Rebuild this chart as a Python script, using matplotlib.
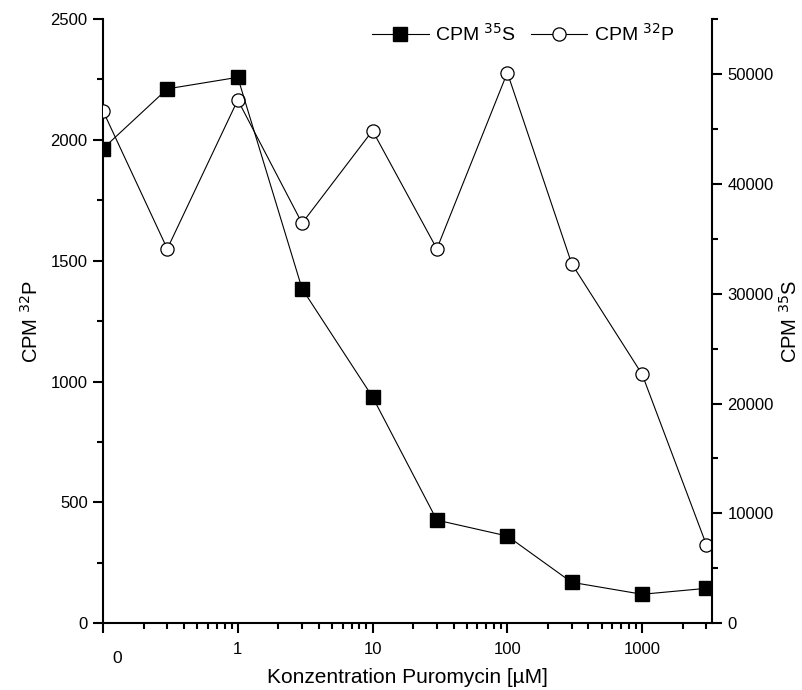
import matplotlib.pyplot as plt
from matplotlib.ticker import FixedLocator, NullFormatter, MultipleLocator
from matplotlib.lines import Line2D
import matplotlib.transforms as mtransforms

plt.rcParams['font.family'] = ['Liberation Sans', 'DejaVu Sans']

# Konzentration Puromycin [uM]; the first point (0) is plotted at 0.1
konz = [0.1, 0.3, 1, 3, 10, 30, 100, 300, 1000, 3000]
cpm_32p = [2120, 1549, 2165, 1655, 2038, 1549, 2278, 1488, 1030, 324]
cpm_35s = [43200, 48640, 49690, 30450, 20600, 9390, 7940, 3730, 2640, 3180]

fig = plt.figure(figsize=(8.02, 6.9), dpi=100)
ax = fig.add_axes([0.1284, 0.0967, 0.7594, 0.8758])
ax2 = ax.twinx()

ax.plot(konz, cpm_32p, color='black', lw=0.8, marker='o', ms=9.5,
        mfc='white', mec='black', mew=0.9, zorder=3)
ax2.plot(konz, cpm_35s, color='black', lw=0.8, marker='s', ms=9.5,
         mfc='black', mec='black', zorder=3)

ax.set_xscale('log')
ax.set_xlim(0.1, 3300)
ax.set_ylim(0, 2500)
ax2.set_ylim(0, 55000)

ax.xaxis.set_major_locator(FixedLocator([0.1, 1, 10, 100, 1000]))
minors = [m * 10.0 ** e for e in range(-1, 4) for m in range(2, 10)]
minors = [v for v in minors if v <= 3000]
ax.xaxis.set_minor_locator(FixedLocator(minors))
ax.xaxis.set_minor_formatter(NullFormatter())
ax.set_xticklabels(['', '1', '10', '100', '1000'])
trans = mtransforms.blended_transform_factory(ax.transData, ax.transAxes)
ax.text(0.127, -0.059, '0', transform=trans, ha='center', va='center', fontsize=12.5)

ax.yaxis.set_major_locator(MultipleLocator(500))
ax.yaxis.set_minor_locator(MultipleLocator(250))
ax2.yaxis.set_major_locator(MultipleLocator(10000))
ax2.yaxis.set_minor_locator(MultipleLocator(5000))

for a in (ax, ax2):
    a.spines['top'].set_visible(False)
    for s in a.spines.values():
        s.set_linewidth(1.5)
    a.tick_params(which='major', direction='out', length=7.5, width=1.5, labelsize=12)
    a.tick_params(which='minor', direction='out', length=4.5, width=1.5)
ax.tick_params(axis='x', which='major', pad=6)
ax.spines['right'].set_visible(False)
ax2.spines['left'].set_visible(False)
ax2.spines['bottom'].set_visible(False)

ax.set_xlabel('Konzentration Puromycin [µM]', fontsize=15, labelpad=8)
ax.set_ylabel('CPM $^{32}$P', fontsize=14.5, labelpad=6)
ax2.set_ylabel('CPM $^{35}$S', fontsize=14.5, labelpad=4)

h1 = Line2D([], [], color='black', lw=0.8, marker='s', ms=9.5, mfc='black')
h2 = Line2D([], [], color='black', lw=0.8, marker='o', ms=9.5, mfc='white', mew=0.9)
fig.legend([h1, h2], ['CPM $^{35}$S', 'CPM $^{32}$P'], ncol=2, loc='center',
           bbox_to_anchor=(0.653, 0.951), frameon=False, fontsize=14,
           handlelength=2.9, handletextpad=0.35, columnspacing=0.75, borderpad=0)

fig.savefig('out.png', dpi=100)
